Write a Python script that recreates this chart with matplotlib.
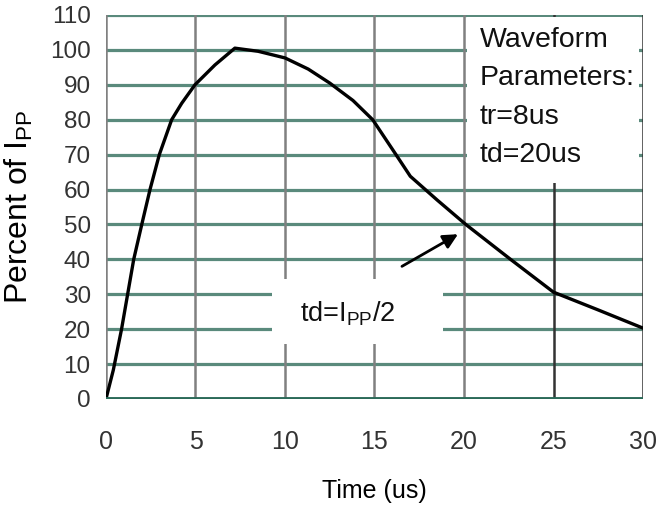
import numpy as np
import matplotlib
matplotlib.use('Agg')
import matplotlib.pyplot as plt
from matplotlib.patches import Rectangle

# surge current waveform 8/20us
time_us = [0, 0.41, 0.87, 1.55, 2.0, 2.46, 2.98, 3.67, 4.23, 4.97, 6.09, 7.2, 8.5, 10.0,
           11.3, 12.5, 13.8, 14.9, 16.2, 17.0, 18.5, 20.1, 22.6, 25.0, 27.5, 30.0]
percent_ipp = [0, 8.3, 20, 40, 50, 60, 70, 80, 84.7, 90, 95.7, 100.5, 99.6, 97.7,
               94.5, 90.5, 85.5, 80, 70, 63.8, 57, 50, 40, 30.6, 25.5, 20.3]

x_ticks = [0, 5, 10, 15, 20, 25, 30]
y_ticks = [0, 10, 20, 30, 40, 50, 60, 70, 80, 90, 100, 110]

plt.rcParams['font.family'] = ['Liberation Sans', 'DejaVu Sans']
plt.rcParams['mathtext.fontset'] = 'custom'
plt.rcParams['mathtext.rm'] = 'Liberation Sans'
plt.rcParams['mathtext.it'] = 'Liberation Sans'

fig = plt.figure(figsize=(6.57, 5.08), dpi=100)
ax = fig.add_axes([0.1613, 0.2146, 0.8174, 0.7559])
ax.set_xlim(0, 30)
ax.set_ylim(0, 110)
for s in ax.spines.values():
    s.set_visible(False)

# grid
for yv in y_ticks[1:]:
    ax.axhline(yv, color='#5a8a7c', lw=2.3, zorder=1)
for xv in x_ticks:
    c = '#333333' if xv >= 25 else '#808080'
    ax.axvline(xv, color=c, lw=1.8, zorder=1)
ax.axhline(0, color='#2b6a58', lw=2.8, zorder=4)

# white boxes behind the notes
ax.add_patch(Rectangle((20.15, 62), 29.8 - 20.15, 109.4 - 62, facecolor='white',
                       edgecolor='none', zorder=2))
ax.add_patch(Rectangle((9.3, 15.8), 18.8 - 9.3, 34.4 - 15.8, facecolor='white',
                       edgecolor='none', zorder=2))

ax.plot(time_us, percent_ipp, color='black', lw=2.4, zorder=3, solid_joinstyle='round')

ax.text(20.9, 106.6, 'Waveform\nParameters:\ntr=8us\ntd=20us', fontsize=20.5,
        ha='left', va='top', linespacing=1.62, color='#111111', zorder=5)
ax.text(13.5, 24.5, r'td=I$_{\mathrm{PP}}$/2', fontsize=19.5, ha='center', va='center',
        color='#111111', zorder=5)
ax.annotate('', xy=(19.8, 47.6), xytext=(16.4, 37.6),
            arrowprops=dict(arrowstyle='-|>', color='black', lw=2, mutation_scale=22),
            zorder=5)

ax.set_xticks(x_ticks)
ax.set_yticks(y_ticks)
ax.tick_params(length=0)
ax.tick_params(axis='x', pad=22, labelsize=18, labelcolor='#333333')
ax.tick_params(axis='y', pad=11, labelsize=17.5, labelcolor='#333333')

ax.set_xlabel('Time (us)', fontsize=18, va='center')
ax.xaxis.set_label_coords(0.5, -0.24)
ax.set_ylabel(r'Percent of I$_{\mathrm{PP}}$', fontsize=23, va='center')
ax.yaxis.set_label_coords(-0.162, 0.5)

fig.savefig('out.png', dpi=100)
